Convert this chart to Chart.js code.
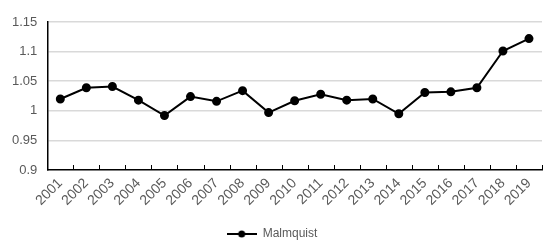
<!DOCTYPE html>
<html>
<head>
<meta charset="utf-8">
<script src="https://cdn.jsdelivr.net/npm/chart.js@4/dist/chart.umd.min.js"></script>
<style>
  html, body { margin: 0; padding: 0; background: #fff; }
  #wrap { width: 550px; height: 245px; }
</style>
</head>
<body>
<div id="wrap"><canvas id="malmquistChart" width="550" height="245"></canvas></div>
<script>
var years = ["2001", "2002", "2003", "2004", "2005", "2006", "2007", "2008", "2009", "2010",
             "2011", "2012", "2013", "2014", "2015", "2016", "2017", "2018", "2019"];
var malmquist = [1.020, 1.039, 1.041, 1.018, 0.992, 1.024, 1.016, 1.034, 0.997, 1.017,
                 1.028, 1.018, 1.020, 0.995, 1.031, 1.032, 1.039, 1.101, 1.122];
var yTicks = [0.9, 0.95, 1, 1.05, 1.1, 1.15];

// legend marker: short line with a dot, like the office chart
var marker = document.createElement("canvas");
marker.width = 30;
marker.height = 10;
var mctx = marker.getContext("2d");
mctx.strokeStyle = "#000";
mctx.lineWidth = 2;
mctx.beginPath();
mctx.moveTo(0, 5);
mctx.lineTo(30, 5);
mctx.stroke();
mctx.fillStyle = "#000";
mctx.beginPath();
mctx.arc(15, 5, 3.5, 0, Math.PI * 2);
mctx.fill();

// small tick marks between categories, pointing up into the plot
var innerTicks = {
    id: "innerTicks",
    afterDatasetsDraw: function (chart) {
        var x = chart.scales.x;
        var area = chart.chartArea;
        var ctx = chart.ctx;
        var step = x.getPixelForValue(1) - x.getPixelForValue(0);
        ctx.save();
        ctx.strokeStyle = "#000";
        ctx.lineWidth = 1;
        for (var i = 0; i <= years.length; i++) {
            var px = Math.round(x.getPixelForValue(i) - step / 2) + 0.5;
            ctx.beginPath();
            ctx.moveTo(px, area.bottom);
            ctx.lineTo(px, area.bottom - 5);
            ctx.stroke();
        }
        ctx.restore();
    }
};

var ctx = document.getElementById("malmquistChart");

var chartData = {
    labels: years,
    datasets: [{
        label: "Malmquist",
        data: malmquist,
        borderColor: "#000",
        backgroundColor: "#000",
        borderWidth: 2,
        pointRadius: 3.5,
        pointHoverRadius: 3.5,
        pointBackgroundColor: "#000",
        tension: 0,
        fill: false
    }]
};

var malmquistChart = new Chart(ctx, {
    type: "line",
    data: chartData,
    plugins: [innerTicks],
    options: {
        responsive: false,
        animation: false,
        devicePixelRatio: 1,
        layout: { padding: { left: 2, right: 8, top: 22, bottom: -5 } },
        plugins: {
            tooltip: { enabled: false },
            legend: {
                position: "bottom",
                labels: {
                    usePointStyle: true,
                    pointStyleWidth: 30,
                    boxHeight: 10,
                    color: "#595959",
                    font: { family: "Liberation Sans", size: 12 },
                    padding: 0,
                    generateLabels: function (chart) {
                        return [{
                            text: "Malmquist",
                            pointStyle: marker,
                            fontColor: "#595959",
                            datasetIndex: 0
                        }];
                    }
                }
            }
        },
        scales: {
            x: {
                offset: true,
                grid: { display: false, drawTicks: false },
                border: { display: true, color: "#000", width: 1.5 },
                afterFit: function (scale) {
                    scale.height = 58;
                },
                ticks: {
                    color: "#595959",
                    font: { family: "Liberation Sans", size: 14 },
                    maxRotation: 45,
                    minRotation: 45,
                    autoSkip: false,
                    padding: 5
                }
            },
            y: {
                min: 0.9,
                max: 1.15,
                afterBuildTicks: function (scale) {
                    scale.ticks = yTicks.map(function (v) { return { value: v }; });
                },
                grid: {
                    color: function (c) { return c.tick && c.tick.value === 0.9 ? "rgba(0,0,0,0)" : "#d9d9d9"; },
                    lineWidth: 1.5,
                    drawTicks: false
                },
                border: { display: true, color: "#000", width: 1.5 },
                ticks: {
                    color: "#595959",
                    font: { family: "Liberation Sans", size: 13 },
                    padding: 10,
                    callback: function (v) { return String(Math.round(v * 100) / 100); }
                }
            }
        }
    }
});
</script>
</body>
</html>
